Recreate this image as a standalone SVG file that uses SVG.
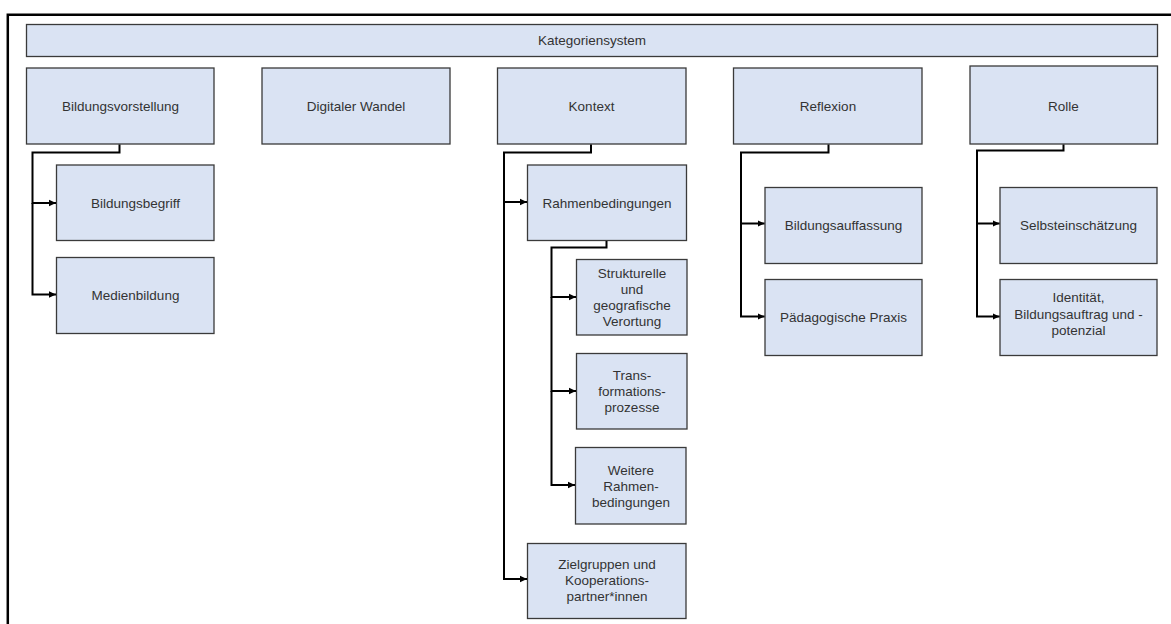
<svg xmlns="http://www.w3.org/2000/svg" width="1171" height="624" viewBox="0 0 1171 624">
<style>
.box{fill:#dae3f3;stroke:#3a3a3a;stroke-width:1.3}
.t{font-family:"Liberation Sans",Arial,sans-serif;font-size:13.5px;fill:#333;text-anchor:middle}
.c{fill:none;stroke:#000;stroke-width:2;marker-end:url(#arr)}
.frame{fill:none;stroke:#000;stroke-width:2.5}
</style>
<defs>
<marker id="arr" markerWidth="8" markerHeight="8" refX="7" refY="4" orient="auto" markerUnits="userSpaceOnUse">
<path d="M0,0.8 L7,4 L0,7.2 z" fill="#000"/>
</marker>
</defs>
<rect width="1171" height="624" fill="#fff"/>
<path class="frame" d="M1171,14.8 H7.8 V624"/>

<g id="n-kategoriensystem"><rect class="box" x="26.5" y="24.5" width="1131" height="32"/><text class="t" x="592" y="45">Kategoriensystem</text></g>

<g id="n-bildungsvorstellung"><rect class="box" x="26.5" y="68" width="187.5" height="76"/><text class="t" x="120.5" y="111">Bildungsvorstellung</text></g>
<g id="n-digitaler-wandel"><rect class="box" x="262" y="68" width="188" height="76"/><text class="t" x="356" y="111">Digitaler Wandel</text></g>
<g id="n-kontext"><rect class="box" x="497.5" y="68" width="188.5" height="76"/><text class="t" x="591.5" y="111">Kontext</text></g>
<g id="n-reflexion"><rect class="box" x="733.5" y="68" width="188.5" height="76"/><text class="t" x="828" y="111">Reflexion</text></g>
<g id="n-rolle"><rect class="box" x="970" y="66" width="187.5" height="78"/><text class="t" x="1063.5" y="110.5">Rolle</text></g>

<g id="n-bildungsbegriff"><rect class="box" x="56.5" y="165" width="157.5" height="75.5"/><text class="t" x="135.5" y="207.8">Bildungsbegriff</text></g>
<g id="n-medienbildung"><rect class="box" x="56.5" y="257.5" width="157.5" height="76"/><text class="t" x="135.5" y="300">Medienbildung</text></g>

<g id="n-rahmenbedingungen"><rect class="box" x="527.5" y="165" width="159" height="75.5"/><text class="t" x="607" y="207.8">Rahmenbedingungen</text></g>
<g id="n-strukturelle"><rect class="box" x="576.5" y="259.5" width="110.5" height="75.5"/><text class="t" x="632" y="278">Strukturelle</text><text class="t" x="632" y="294">und</text><text class="t" x="632" y="310">geografische</text><text class="t" x="632" y="326">Verortung</text></g>
<g id="n-transformationsprozesse"><rect class="box" x="576.5" y="353.5" width="110.5" height="75.5"/><text class="t" x="632" y="380">Trans-</text><text class="t" x="632" y="396">formations-</text><text class="t" x="632" y="412">prozesse</text></g>
<g id="n-weitere"><rect class="box" x="575.5" y="447.5" width="110.5" height="76.5"/><text class="t" x="631" y="474.5">Weitere</text><text class="t" x="631" y="490.5">Rahmen-</text><text class="t" x="631" y="506.5">bedingungen</text></g>
<g id="n-zielgruppen"><rect class="box" x="527.5" y="543.5" width="158.5" height="75"/><text class="t" x="607" y="568.5">Zielgruppen und</text><text class="t" x="607" y="584.5">Kooperations-</text><text class="t" x="607" y="600.5">partner*innen</text></g>

<g id="n-bildungsauffassung"><rect class="box" x="765" y="187.5" width="157" height="76"/><text class="t" x="843.5" y="230">Bildungsauffassung</text></g>
<g id="n-paedagogische-praxis"><rect class="box" x="765" y="279.5" width="157" height="76"/><text class="t" x="843.5" y="322">Pädagogische Praxis</text></g>

<g id="n-selbsteinschaetzung"><rect class="box" x="1000" y="187.5" width="157" height="76"/><text class="t" x="1078.5" y="230">Selbsteinschätzung</text></g>
<g id="n-identitaet"><rect class="box" x="1000" y="279.5" width="157" height="76"/><text class="t" x="1078.5" y="302">Identität,</text><text class="t" x="1078.5" y="318.5">Bildungsauftrag und -</text><text class="t" x="1078.5" y="335">potenzial</text></g>

<g id="connectors">
<path class="c" d="M119.5,144.5 V152.5 H32.5 V203 H56"/>
<path class="c" d="M32.5,203 V294.5 H56"/>
<path class="c" d="M591,144.5 V152.5 H504 V202 H527"/>
<path class="c" d="M504,202 V579 H527"/>
<path class="c" d="M606.5,241 V247.5 H551.5 V297 H576"/>
<path class="c" d="M551.5,297 V391 H576"/>
<path class="c" d="M551.5,391 V485 H575"/>
<path class="c" d="M828.5,144.5 V152.5 H741 V223.5 H764.5"/>
<path class="c" d="M741,223.5 V316.5 H764.5"/>
<path class="c" d="M1063.5,144.5 V150.5 H977 V223.5 H999.5"/>
<path class="c" d="M977,223.5 V316.5 H999.5"/>
</g>
</svg>
